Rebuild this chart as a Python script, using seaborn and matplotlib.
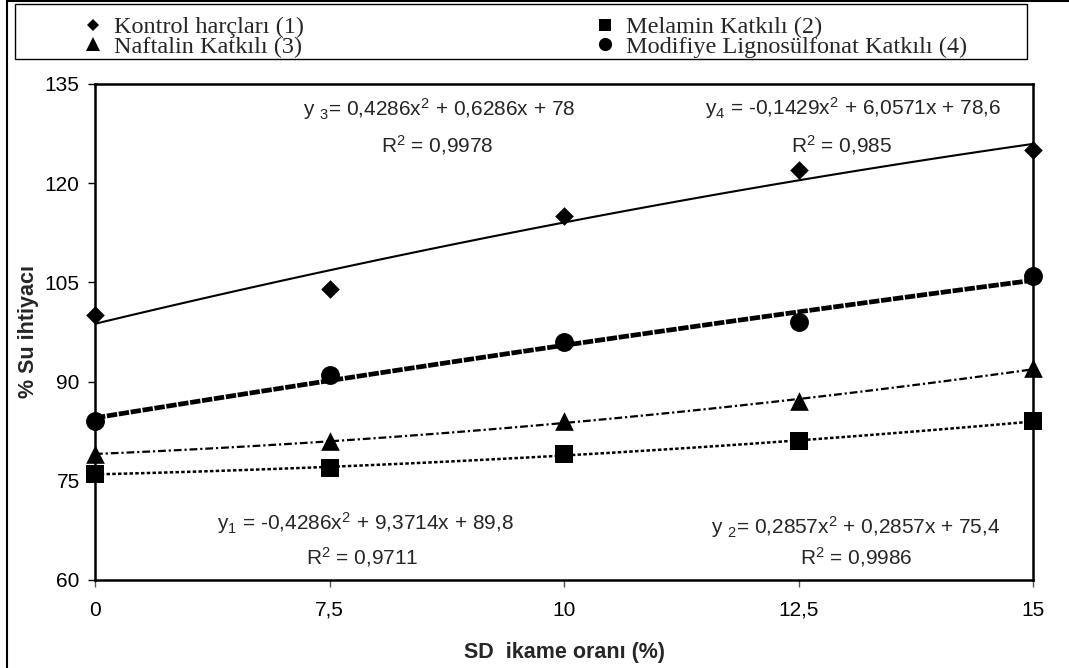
import numpy as np
import pandas as pd
import matplotlib
matplotlib.use("Agg")
import matplotlib.pyplot as plt
import seaborn as sns
from matplotlib.lines import Line2D
from matplotlib.patches import Rectangle

# ── Data ─────────────────────────────────────────────────────────────────────
sd_labels = ["0", "7,5", "10", "12,5", "15"]
kontrol = [100, 104, 115, 122, 125]
melamin = [76, 77, 79, 81, 84]
naftalin = [79, 81, 84, 87, 92]
modifiye = [84, 91, 96, 99, 106]

series_names = [
    "Kontrol harçları (1)",
    "Melamin Katkılı (2)",
    "Naftalin Katkılı (3)",
    "Modifiye Lignosülfonat Katkılı (4)",
]

eq_texts = [
    "y $_3$= 0,4286x$^2$ + 0,6286x + 78",
    "y$_4$ = -0,1429x$^2$ + 6,0571x + 78,6",
    "y$_1$ = -0,4286x$^2$ + 9,3714x + 89,8",
    "y $_2$= 0,2857x$^2$ + 0,2857x + 75,4",
]
r2_texts = ["R$^2$ = 0,9978", "R$^2$ = 0,985", "R$^2$ = 0,9711", "R$^2$ = 0,9986"]

# ── Style ────────────────────────────────────────────────────────────────────
sns.set_theme(style="ticks")
plt.rcParams.update({
    "font.family": ["Liberation Sans", "DejaVu Sans"],
    "mathtext.fontset": "custom",
    "mathtext.rm": "Liberation Sans",
    "mathtext.it": "Liberation Sans:italic",
    "mathtext.bf": "Liberation Sans:bold",
    "axes.edgecolor": "black",
    "axes.linewidth": 1.5,
    "xtick.color": "black",
    "ytick.color": "black",
})

fig = plt.figure(figsize=(10.69, 6.68), dpi=100)
W, H = 1069, 668
ax = fig.add_axes([95 / W, 1 - 580 / H, (1033 - 95) / W, (580 - 84) / H])

pos = np.arange(len(sd_labels))

# trend line styles (quadratic fits)
styles = {
    "kontrol": dict(lw=1.5, ls="-"),
    "modifiye": dict(lw=3.4, dashes=(2.2, 0.35)),
    "naftalin": dict(lw=1.6, dashes=(3.5, 1.3, 1.0, 1.3)),
    "melamin": dict(lw=1.8, dashes=(1.4, 0.9)),
}
data = {"kontrol": kontrol, "melamin": melamin, "naftalin": naftalin, "modifiye": modifiye}
markers = {"kontrol": "D", "melamin": "s", "naftalin": "^", "modifiye": "o"}
msizes = {"kontrol": 90, "melamin": 160, "naftalin": 180, "modifiye": 185}

for key, vals in data.items():
    df = pd.DataFrame({"x": pos, "y": vals})
    sns.regplot(data=df, x="x", y="y", order=2, ci=None, scatter=False, ax=ax,
                line_kws=dict(color="black", **styles[key]))
    sns.scatterplot(data=df, x="x", y="y", marker=markers[key], s=msizes[key],
                    color="black", linewidth=0, ax=ax, clip_on=False, zorder=5)

ax.set_xlim(0, len(sd_labels) - 1)
ax.set_ylim(60, 135)
ax.set_yticks([60, 75, 90, 105, 120, 135])
ax.set_xticks(pos)
ax.set_xticklabels(sd_labels)
ax.tick_params(axis="both", labelsize=15, direction="out", length=5, width=1)
ax.tick_params(axis="x", pad=10, color="#555555")
ax.tick_params(axis="y", pad=6)
for sp in ax.spines.values():
    sp.set_visible(True)
    sp.set_linewidth(1.8)

ax.set_xlabel("SD  ikame oranı (%)", fontsize=15.5, fontweight="bold", labelpad=16)
ax.set_ylabel("% Su ihtiyacı", fontsize=15.5, fontweight="bold", labelpad=4)

# trend equations
eq_pos = [(1.467, 131.2), (3.233, 131.4), (1.151, 68.6), (3.245, 68.0)]
r2_pos = [(1.46, 125.8), (3.185, 125.8), (1.139, 63.4), (3.245, 63.4)]
for t, (x, y) in zip(eq_texts, eq_pos):
    ax.text(x, y, t, ha="center", va="center", fontsize=15)
for t, (x, y) in zip(r2_texts, r2_pos):
    ax.text(x, y, t, ha="center", va="center", fontsize=15)

# legend
handles = [
    Line2D([], [], ls="none", marker="D", ms=6.5, color="black", mew=0),
    Line2D([], [], ls="none", marker="^", ms=10, color="black", mew=0),
    Line2D([], [], ls="none", marker="s", ms=8.5, color="black", mew=0),
    Line2D([], [], ls="none", marker="o", ms=9.5, color="black", mew=0),
]
labels = [series_names[0], series_names[2], series_names[1], series_names[3]]
fig.legend(handles, labels, loc="upper left", bbox_to_anchor=(86 / W, 1 - 16 / H),
           ncol=2, frameon=False, borderpad=0, borderaxespad=0,
           prop={"family": "Liberation Serif", "size": 17.5},
           handlelength=0.6, handletextpad=0.55, columnspacing=12.1,
           labelspacing=-0.1)
fig.add_artist(Rectangle((15 / W, 1 - 59 / H), 1012 / W, 55 / H, transform=fig.transFigure,
                         fill=False, lw=1, edgecolor="black"))
# outer frame
fig.add_artist(Rectangle((7 / W, -0.01), 1.02, 1 - 1 / H + 0.01, transform=fig.transFigure,
                         fill=False, lw=1.5, edgecolor="black"))

fig.savefig("out.png", dpi=100, facecolor="white")
